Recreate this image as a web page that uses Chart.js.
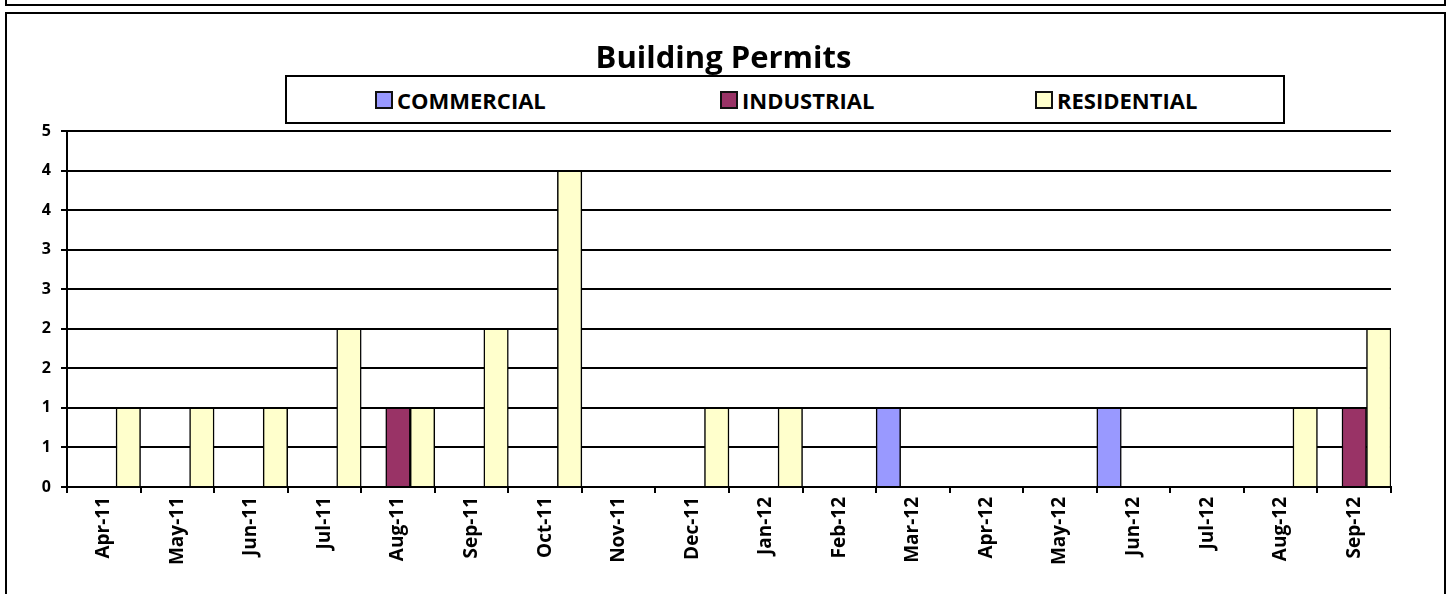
<!DOCTYPE html>
<html>
<head>
<meta charset="utf-8">
<script src="https://cdn.jsdelivr.net/npm/chart.js@4"></script>
<style>
  html, body { margin: 0; padding: 0; background: #fff; overflow: hidden; }
  body { width: 1447px; height: 594px; position: relative; }
  .frame { position: absolute; box-sizing: border-box; border: 2px solid #000; }
  #topFrame { left: 5px; top: -10px; width: 1441px; height: 16px; }
  #chartFrame { left: 5px; top: 12px; width: 1441px; height: 600px; }
  #wrap { position: absolute; left: 0; top: 0; width: 1447px; height: 594px; }
  #legend {
    position: absolute; left: 285px; top: 75px; width: 1000px; height: 49px;
    box-sizing: border-box; border: 2px solid #000; background: #fff;
    font-family: "Open Sans", sans-serif; font-weight: bold; font-size: 22px; color: #000;
  }
  .item { position: absolute; top: 0; height: 45px; display: flex; align-items: center; }
  .sw { width: 14px; height: 14px; border: 2px solid #111; margin-right: 4px; }
</style>
</head>
<body>
<div class="frame" id="topFrame"></div>
<div class="frame" id="chartFrame"></div>
<div id="wrap"><canvas id="permits"></canvas></div>
<div id="legend"></div>
<script>
/* ── data ───────────────────────────────────────────── */
const months = ["Apr-11", "May-11", "Jun-11", "Jul-11", "Aug-11", "Sep-11", "Oct-11", "Nov-11", "Dec-11",
                "Jan-12", "Feb-12", "Mar-12", "Apr-12", "May-12", "Jun-12", "Jul-12", "Aug-12", "Sep-12"];

const commercial  = [0, 0, 0, 0, 0, 0, 0, 0, 0, 0, 0, 1, 0, 0, 1, 0, 0, 0];
const industrial  = [0, 0, 0, 0, 1, 0, 0, 0, 0, 0, 0, 0, 0, 0, 0, 0, 0, 1];
const residential = [1, 1, 1, 2, 1, 2, 4, 0, 1, 1, 0, 0, 0, 0, 0, 0, 1, 2];

const seriesNames  = ["COMMERCIAL", "INDUSTRIAL", "RESIDENTIAL"];
const seriesColors = ["#9999FF", "#993366", "#FFFFCC"];

const yMax  = 4.5;
const yStep = 0.5;

/* ── html legend (Excel-style, evenly spaced) ───────── */
const legend = document.getElementById("legend");
const itemLeft = [88, 433, 748];
seriesNames.forEach((name, i) => {
  const el = document.createElement("div");
  el.className = "item";
  el.style.left = itemLeft[i] + "px";
  el.innerHTML = `<span class="sw" style="background:${seriesColors[i]}"></span><span>${name}</span>`;
  legend.appendChild(el);
});

/* ── chart ──────────────────────────────────────────── */
const bar = (label, data, color) => ({
  label, data,
  backgroundColor: color,
  borderColor: "#000",
  borderWidth: 1.5,
  categoryPercentage: 1,
  barPercentage: 1,
});

new Chart(document.getElementById("permits"), {
  type: "bar",
  data: {
    labels: months,
    datasets: [
      bar(seriesNames[0], commercial, seriesColors[0]),
      bar(seriesNames[1], industrial, seriesColors[1]),
      bar(seriesNames[2], residential, seriesColors[2]),
    ],
  },
  options: {
    responsive: true,
    maintainAspectRatio: false,
    animation: false,
    layout: { padding: 0 },
    plugins: {
      legend: { display: false },
      tooltip: { enabled: false },
      title: {
        display: true,
        text: "Building Permits",
        color: "#000",
        font: { family: "Open Sans", size: 31, weight: "bold", lineHeight: 1.2 },
        padding: { top: 41, bottom: 53 },
      },
    },
    scales: {
      x: {
        afterFit: (s) => { s.height = 107; },
        grid: { display: true, drawOnChartArea: false, drawTicks: true, tickLength: 6, color: "#000", lineWidth: 2, offset: true },
        border: { display: true, color: "#000", width: 2 },
        ticks: {
          minRotation: 90, maxRotation: 90, autoSkip: false, padding: 4,
          color: "#000",
          font: { family: "Open Sans", size: 19, weight: "bold" },
        },
      },
      y: {
        min: 0,
        max: yMax,
        afterFit: (s) => { s.width = 67; },
        grid: { color: "#000", lineWidth: 2, drawTicks: true, tickLength: 6 },
        border: { display: true, color: "#000", width: 2 },
        ticks: {
          stepSize: yStep,
          padding: 10,
          color: "#000",
          font: { family: "Open Sans", size: 16, weight: "bold" },
          callback: (v) => Math.round(v),
        },
      },
      // empty right-hand margin so the title stays centred on the whole frame
      yRight: {
        position: "right",
        min: 0,
        max: yMax,
        afterFit: (s) => { s.width = 56; },
        grid: { display: false },
        border: { display: false },
        ticks: { display: false },
      },
    },
  },
});
</script>
</body>
</html>
